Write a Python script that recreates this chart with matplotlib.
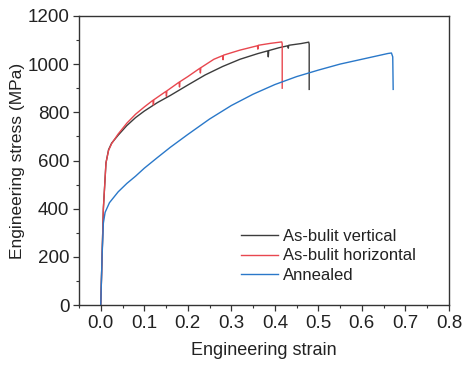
import matplotlib
matplotlib.use("Agg")
import matplotlib.pyplot as plt
from matplotlib.ticker import MultipleLocator, FormatStrFormatter

plt.rcParams['font.family'] = ['Liberation Sans', 'DejaVu Sans']

# As-built vertical
v_strain = [0.0, 0.006, 0.012, 0.018, 0.025, 0.04, 0.06, 0.08, 0.10, 0.13, 0.16, 0.20, 0.24, 0.28,
            0.32, 0.36, 0.384, 0.385, 0.386, 0.41, 0.43, 0.431, 0.432, 0.46, 0.478, 0.479, 0.479]
v_stress = [0, 400, 590, 645, 672, 705, 745, 778, 805, 840, 870, 913, 955, 990,
            1020, 1043, 1055, 1030, 1056, 1068, 1076, 1066, 1078, 1085, 1091, 1082, 895]

# As-built horizontal
h_strain = [0.0, 0.006, 0.012, 0.018, 0.025, 0.04, 0.06, 0.08, 0.10, 0.12, 0.121, 0.122, 0.15, 0.151, 0.152,
            0.18, 0.181, 0.182, 0.20, 0.228, 0.229, 0.23, 0.26, 0.28, 0.281, 0.282, 0.32, 0.36, 0.361, 0.362,
            0.39, 0.416, 0.417, 0.417]
h_stress = [0, 400, 590, 642, 670, 710, 755, 792, 822, 850, 830, 852, 887, 866, 889,
            925, 905, 927, 948, 983, 963, 985, 1020, 1035, 1018, 1037, 1058, 1076, 1062, 1078,
            1086, 1092, 1084, 900]

# Annealed
a_strain = [0.0, 0.003, 0.006, 0.01, 0.02, 0.04, 0.06, 0.08, 0.10, 0.13, 0.16, 0.20, 0.25, 0.30,
            0.35, 0.40, 0.45, 0.50, 0.55, 0.60, 0.64, 0.66, 0.668, 0.671, 0.672]
a_stress = [0, 200, 340, 385, 425, 470, 505, 535, 568, 612, 655, 708, 772, 828,
            875, 915, 948, 975, 1000, 1020, 1036, 1044, 1046, 1030, 895]

labels = ['As-bulit vertical', 'As-bulit horizontal', 'Annealed']
colors = ['#3c3c3c', '#e8474f', '#2a78c9']

fig = plt.figure(figsize=(4.73, 3.69), dpi=100)
ax = fig.add_axes([0.167, 0.173, 0.782, 0.784])

ax.plot(v_strain, v_stress, color=colors[0], lw=1.0, label=labels[0])
ax.plot(h_strain, h_stress, color=colors[1], lw=1.0, label=labels[1])
ax.plot(a_strain, a_stress, color=colors[2], lw=1.0, label=labels[2])

ax.set_xlim(-0.05, 0.8)
ax.set_ylim(0, 1200)
ax.xaxis.set_major_locator(MultipleLocator(0.1))
ax.xaxis.set_minor_locator(MultipleLocator(0.05))
ax.yaxis.set_major_locator(MultipleLocator(200))
ax.yaxis.set_minor_locator(MultipleLocator(100))
ax.xaxis.set_major_formatter(FormatStrFormatter('%.1f'))
ax.tick_params(which='major', direction='out', length=4, width=0.9, labelsize=13.5, colors='#333333', labelcolor='#222222', pad=3)
ax.tick_params(which='minor', direction='out', length=2.5, width=0.8, colors='#333333')
for s in ax.spines.values():
    s.set_linewidth(1.0)
    s.set_color('#333333')

ax.set_xlabel('Engineering strain', fontsize=13, color='#222222', labelpad=7)
ax.set_ylabel('Engineering stress (MPa)', fontsize=12.5, color='#222222')
ax.yaxis.set_label_coords(-0.145, 0.5)

leg = ax.legend(loc='center left', bbox_to_anchor=(0.438, 0.17), frameon=False, fontsize=12,
                handlelength=2.2, handletextpad=0.3, labelspacing=0.27, borderpad=0, borderaxespad=0)
for t in leg.get_texts():
    t.set_color('#222222')

fig.savefig('out.png', dpi=100)
